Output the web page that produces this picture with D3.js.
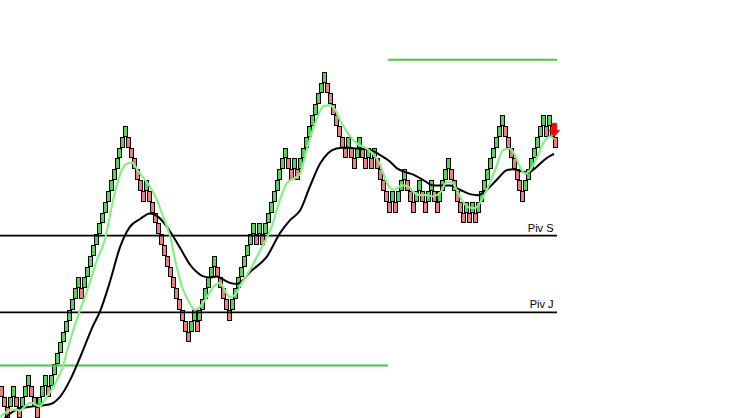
<!DOCTYPE html>
<html>
<head>
<meta charset="utf-8">
<script src="https://cdn.jsdelivr.net/npm/d3@7"></script>
<style>
  html, body { margin: 0; padding: 0; background: #fff; }
  #renko { width: 737px; height: 418px; }
</style>
</head>
<body>
<div id="renko"></div>
<script>
// Renko brick chart with two moving averages and pivot lines

// Set dimensions for the plot
const width = 737;
const height = 418;
const plotRight = 557;

// Brick bottoms, in box units (one entry per brick, left to right)
const brickLevels = [
  2,1,0,1,2,1,0,1,2,3,2,1,0,1,2,3,2,3,4,
  5,6,7,8,9,10,11,12,11,12,13,14,15,16,17,18,19,20,21,22,23,24,25,26,
  25,24,23,22,21,20,21,20,19,18,17,16,15,14,13,12,11,10,9,8,7,8,9,8,9,10,
  11,12,13,14,13,12,11,10,9,10,11,12,13,14,15,16,17,16,17,16,17,18,19,20,21,22,23,24,
  23,22,23,22,23,24,25,26,27,28,29,30,31,
  30,29,28,27,26,25,24,25,24,23,24,25,24,23,24,23,24,23,22,21,20,19,
  20,19,20,21,22,21,20,19,20,21,20,19,20,21,20,19,20,21,22,23,22,21,20,19,18,
  19,18,19,18,19,20,21,22,23,24,25,26,27,26,25,24,23,22,21,20,
  21,22,23,24,25,26,27,26,27,26,25
];

// Fast moving average (light green), [brick index, level]
const fastMA = [
  [-0.5,0.1],[1.8,0.6],[3.5,0.8],[5.1,0.8],[6.3,0.7],[7.9,1.1],[9.6,1.4],[10.7,1.4],
  [11.9,1.2],[13.0,1.1],[14.1,1.5],[15.8,2.2],[17.5,2.9],[19.2,3.8],[20.9,4.9],[22.0,6.1],
  [25.9,9.5],[28.8,11.7],[32.1,14.5],[35.0,16.6],[37.7,20.2],[40.6,22.9],[42.3,23.5],
  [44.0,23.6],[46.2,22.8],[47.9,22.2],[50.1,21.4],[52.4,20.2],[54.6,18.6],[56.9,16.8],
  [59.1,14.0],[61.4,11.8],[63.6,10.6],[65.3,10.0],[67.0,10.3],[69.3,11.2],[72.1,12.3],
  [73.8,12.5],[75.4,11.8],[77.1,11.2],[78.8,11.4],[81.1,12.5],[83.9,13.7],[87.3,15.5],
  [91.2,17.7],[94.0,20.2],[96.3,21.7],[99.1,22.2],[100.8,22.6],[103.0,24.8],[105.8,27.2],
  [108.6,28.8],[110.9,28.9],[112.6,28.5],[114.3,27.5],[116.5,26.5],[119.9,25.4],
  [123.3,24.9],[126.1,24.2],[127.8,23.4],[130.0,21.8],[132.2,21.1],[133.4,21.2],
  [135.1,21.5],[137.3,21.4],[139.0,20.9],[141.3,20.6],[143.5,20.6],[145.7,20.5],
  [148.0,20.8],[150.3,21.8],[151.9,21.8],[153.6,21.1],[155.3,20.2],[157.6,19.5],
  [159.8,19.4],[161.5,19.9],[163.8,21.1],[166.6,22.9],[169.4,24.8],[171.6,24.9],
  [173.3,24.3],[175.0,23.2],[176.7,22.6],[178.4,22.9],[180.6,24.0],[182.9,25.4],
  [185.1,26.0],[186.5,25.8]
];

// Slow moving average (black), [brick index, level]
const slowMA = [
  [1.0,0.0],[5.1,0.8],[10.7,1.1],[16.4,1.3],[19.8,2.0],[23.1,3.5],[26.5,5.6],[31.0,8.6],
  [33.3,9.9],[36.6,12.6],[40.0,15.8],[43.4,17.7],[46.8,18.4],[50.1,18.9],[52.9,18.6],
  [55.8,17.7],[58.6,16.5],[61.4,15.2],[63.6,14.2],[65.9,13.5],[68.1,13.1],[70.4,13.0],
  [72.6,13.1],[74.9,12.8],[77.1,12.5],[79.4,12.4],[81.6,12.8],[83.9,13.5],[89.5,14.9],
  [94.0,17.1],[97.4,18.3],[100.8,19.2],[104.1,21.4],[107.5,23.5],[110.3,24.5],
  [113.1,24.9],[116.5,25.0],[119.9,24.9],[124.4,24.8],[127.8,24.3],[131.1,23.7],
  [133.4,23.1],[135.6,22.8],[139.0,22.5],[142.4,22.0],[145.7,21.5],[148.0,21.5],
  [151.4,21.5],[154.8,21.1],[158.1,20.7],[160.9,20.6],[163.8,21.1],[167.1,22.0],
  [170.5,22.9],[172.7,23.0],[175.6,22.8],[177.8,22.7],[180.6,23.2],[183.4,23.9],
  [185.7,24.3],[186.5,24.4]
];

// Pivot lines
const pivotNames = ["Piv S", "Piv J"];
const pivotLevels = [16.86, 9.78];

// Range lines: [from index, to index, level]
const rangeLines = [
  [-0.5, 130.5, 4.87],
  [130.5, 187.5, 33.1]
];

// Sell signal arrow: [index, level of tip]
const signal = [186.6, 26.0];

const svg = d3.select("#renko")
  .append("svg")
  .attr("width", width)
  .attr("height", height)
  .attr("viewBox", [0, 0, width, height]);

svg.append("rect")
  .attr("width", width)
  .attr("height", height)
  .attr("fill", "#fff");

// Scales
let xScale = d3.scaleLinear()
  .domain([-0.5, brickLevels.length - 0.5])
  .range([0, plotRight]);

let yScale = d3.scaleLinear()
  .domain([0, 32])
  .range([418.3, 71.7]);

/*

  Bricks

*/
const bricks = brickLevels.map((v, i) => ({
  i: i,
  v: v,
  up: i > 0 && v > brickLevels[i - 1]
}));

svg.selectAll(".brick")
  .data(bricks)
  .enter()
  .append("rect")
    .attr("class", "brick")
    .attr("x", d => Math.round(xScale(d.i) - 2.5) + 0.5)
    .attr("y", d => Math.round(yScale(d.v + 1)) + 0.5)
    .attr("width", 4)
    .attr("height", d => Math.round(yScale(d.v)) - Math.round(yScale(d.v + 1)) - 1)
    .attr("fill", d => d.up ? "#55d455" : "#f07e7e")
    .attr("stroke", "#000")
    .attr("stroke-width", 1);

/*

  Horizontal lines

*/
svg.selectAll(".range")
  .data(rangeLines)
  .enter()
  .append("line")
    .attr("class", "range")
    .attr("x1", d => xScale(d[0]))
    .attr("x2", d => xScale(d[1]))
    .attr("y1", d => yScale(d[2]))
    .attr("y2", d => yScale(d[2]))
    .attr("stroke", "#48c848")
    .attr("stroke-width", 2);

svg.selectAll(".pivot")
  .data(pivotLevels)
  .enter()
  .append("line")
    .attr("class", "pivot")
    .attr("x1", xScale(-0.5))
    .attr("x2", xScale(brickLevels.length - 0.5))
    .attr("y1", d => yScale(d))
    .attr("y2", d => yScale(d))
    .attr("stroke", "#000")
    .attr("stroke-width", 1.8);

svg.selectAll(".pivot-label")
  .data(pivotLevels)
  .enter()
  .append("text")
    .attr("class", "pivot-label")
    .attr("x", 553.5)
    .attr("y", d => yScale(d) - 4)
    .attr("text-anchor", "end")
    .attr("font-family", "'Liberation Sans Narrow', 'Liberation Sans', Arial, sans-serif")
    .attr("font-size", "11px")
    .attr("fill", "#000")
    .text((d, i) => pivotNames[i]);

/*

  Moving averages

*/
const maLine = d3.line()
  .x(d => xScale(d[0]))
  .y(d => yScale(d[1]))
  .curve(d3.curveMonotoneX);

svg.append("path")
  .datum(slowMA)
  .attr("d", maLine)
  .attr("fill", "none")
  .attr("stroke", "#000")
  .attr("stroke-width", 2);

svg.append("path")
  .datum(fastMA)
  .attr("d", maLine)
  .attr("fill", "none")
  .attr("stroke", "#84f184")
  .attr("stroke-width", 2.2);

/*

  Signal arrow

*/
const ax = xScale(signal[0]);
const ay = yScale(signal[1]);
svg.append("path")
  .attr("d", `M${ax - 2.5},${ay - 13.5} L${ax + 2.5},${ay - 13.5} L${ax + 2.5},${ay - 6.5}
              L${ax + 5.5},${ay - 6.5} L${ax},${ay} L${ax - 5.5},${ay - 6.5} L${ax - 2.5},${ay - 6.5} Z`)
  .attr("fill", "#ff0000")
  .attr("stroke", "#e00000")
  .attr("stroke-width", 0.5);
</script>
</body>
</html>
